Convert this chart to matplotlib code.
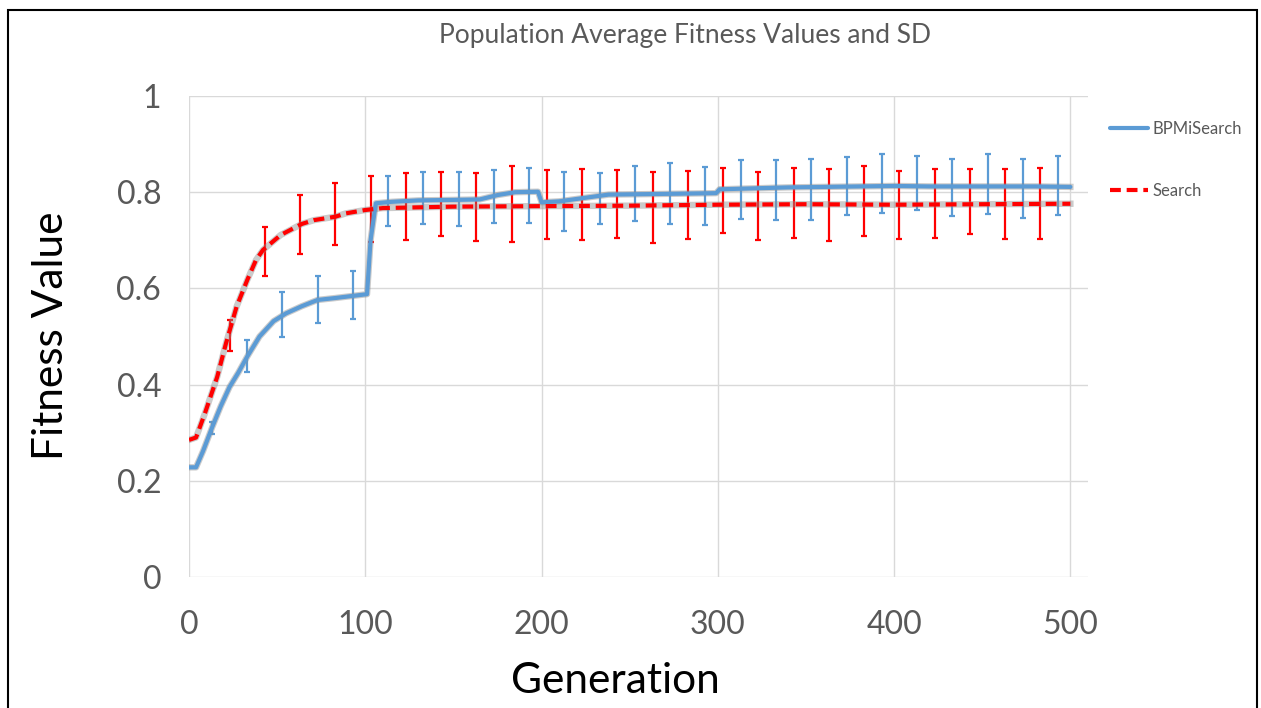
import matplotlib
matplotlib.use("Agg")
import matplotlib.pyplot as plt
from matplotlib.patches import Rectangle

# ---- data ----
blue_gen = [0, 4, 8, 13, 18, 23, 28, 33, 40, 48, 55, 64, 73, 83, 92, 101, 103, 106,
            115, 130, 150, 165, 175, 185, 198, 200, 210, 222, 238, 260, 280, 299, 301,
            320, 340, 360, 380, 400, 420, 440, 460, 480, 500]
blue_val = [0.228, 0.228, 0.262, 0.310, 0.355, 0.395, 0.425, 0.458, 0.500, 0.532, 0.548,
            0.563, 0.576, 0.580, 0.584, 0.588, 0.700, 0.777, 0.780, 0.783, 0.784, 0.785,
            0.794, 0.800, 0.801, 0.779, 0.781, 0.787, 0.795, 0.796, 0.797, 0.798, 0.806,
            0.808, 0.810, 0.811, 0.812, 0.813, 0.812, 0.812, 0.812, 0.812, 0.811]

red_gen = [0, 4, 9, 16, 21, 27, 33, 38, 42, 52, 64, 71, 83, 89, 100, 110, 150, 200,
           250, 300, 350, 400, 450, 500]
red_val = [0.285, 0.290, 0.340, 0.416, 0.486, 0.562, 0.617, 0.659, 0.680, 0.711, 0.734,
           0.742, 0.749, 0.756, 0.763, 0.767, 0.770, 0.771, 0.772, 0.774, 0.775, 0.774,
           0.775, 0.776]

blue_err_gen = [13, 33, 53, 73, 93, 113, 133, 153, 173, 193, 213, 233, 253, 273, 293,
                313, 333, 353, 373, 393, 413, 433, 453, 473, 493]
blue_err_mean = [0.310, 0.459, 0.546, 0.577, 0.586, 0.782, 0.787, 0.785, 0.792, 0.794,
                 0.780, 0.787, 0.798, 0.797, 0.792, 0.806, 0.805, 0.806, 0.813, 0.818,
                 0.819, 0.810, 0.817, 0.808, 0.814]
blue_err_sd = [0.012, 0.033, 0.047, 0.048, 0.050, 0.052, 0.054, 0.056, 0.055, 0.057,
               0.061, 0.053, 0.057, 0.063, 0.060, 0.061, 0.062, 0.063, 0.061, 0.061,
               0.057, 0.060, 0.062, 0.062, 0.062]

red_err_gen = [23, 43, 63, 83, 103, 123, 143, 163, 183, 203, 223, 243, 263, 283, 303,
               323, 343, 363, 383, 403, 423, 443, 463, 483]
red_err_mean = [0.502, 0.677, 0.733, 0.755, 0.765, 0.770, 0.775, 0.769, 0.776, 0.775,
                0.774, 0.776, 0.768, 0.774, 0.783, 0.772, 0.777, 0.774, 0.782, 0.773,
                0.777, 0.781, 0.776, 0.777]
red_err_sd = [0.033, 0.051, 0.062, 0.065, 0.068, 0.069, 0.067, 0.070, 0.079, 0.072,
              0.074, 0.071, 0.074, 0.071, 0.067, 0.071, 0.073, 0.075, 0.073, 0.071,
              0.072, 0.068, 0.073, 0.074]

x_ticks = [0, 100, 200, 300, 400, 500]
y_ticks = [0, 0.2, 0.4, 0.6, 0.8, 1.0]
y_tick_labels = ["0", "0.2", "0.4", "0.6", "0.8", "1"]

title = "Population Average Fitness Values and SD"
series_names = ["BPMiSearch", "Search"]

# ---- drawing ----
FONT = ["Lato", "DejaVu Sans"]
plt.rcParams["font.family"] = FONT

W, H = 1261, 708
fig = plt.figure(figsize=(W / 100, H / 100), dpi=100)
fig.patch.set_facecolor("white")

ax = fig.add_axes([189 / W, 1 - 577 / H, (1088 - 189) / W, (577 - 96) / H])
ax.set_xlim(0, 510)
ax.set_ylim(0, 1)

for s in ax.spines.values():
    s.set_visible(False)

ax.set_xticks(x_ticks)
ax.set_yticks(y_ticks)
ax.set_yticklabels(y_tick_labels)
ax.tick_params(axis="both", length=0, labelsize=23, labelcolor="#595959")
ax.tick_params(axis="y", pad=20)
ax.tick_params(axis="x", pad=24)
ax.grid(True, color="#d9d9d9", linewidth=1.0)
ax.set_axisbelow(True)

blue = "#5b9bd5"
red = "#ff0000"

# error bars
ax.errorbar(blue_err_gen, blue_err_mean, yerr=blue_err_sd, fmt="none",
            ecolor=blue, elinewidth=1.6, capsize=2.4, capthick=1.6, zorder=2)
ax.errorbar(red_err_gen, red_err_mean, yerr=red_err_sd, fmt="none",
            ecolor=red, elinewidth=1.6, capsize=2.4, capthick=1.6, zorder=2)

# grey halo under lines
ax.plot(blue_gen, blue_val, color="#8c8c8c", linewidth=4.6, alpha=0.45, zorder=3)
ax.plot(red_gen, red_val, color="#8c8c8c", linewidth=4.6, alpha=0.45, zorder=3)

ln_b, = ax.plot(blue_gen, blue_val, color=blue, linewidth=3.0, zorder=4,
                solid_capstyle="round", label=series_names[0])
ln_r, = ax.plot(red_gen, red_val, color=red, linewidth=3.0, zorder=5,
                linestyle=(0, (2.6, 1.4)), label=series_names[1])

leg = ax.legend(handles=[ln_b, ln_r], loc="upper left",
                bbox_to_anchor=(1110 / W, 1 - 121 / H), bbox_transform=fig.transFigure,
                frameon=False, fontsize=12, labelcolor="#595959", borderaxespad=0,
                handlelength=2.3, handletextpad=0.25, labelspacing=2.75, borderpad=0)

fig.text(685 / W, 1 - 36 / H, title, ha="center", va="center",
         fontsize=19, color="#595959")
fig.text(51 / W, 1 - 336 / H, "Fitness Value", ha="center", va="center",
         rotation=90, fontsize=30.5, color="black")
fig.text(615 / W, 1 - 681 / H, "Generation", ha="center", va="center",
         fontsize=30.5, color="black")

# outer frame
fig.patches.append(Rectangle((8 / W, -0.05), (1257 - 8) / W, 1.05 - 10 / H,
                             transform=fig.transFigure, fill=False,
                             edgecolor="black", linewidth=1.5))

fig.savefig("out.png", dpi=100)
